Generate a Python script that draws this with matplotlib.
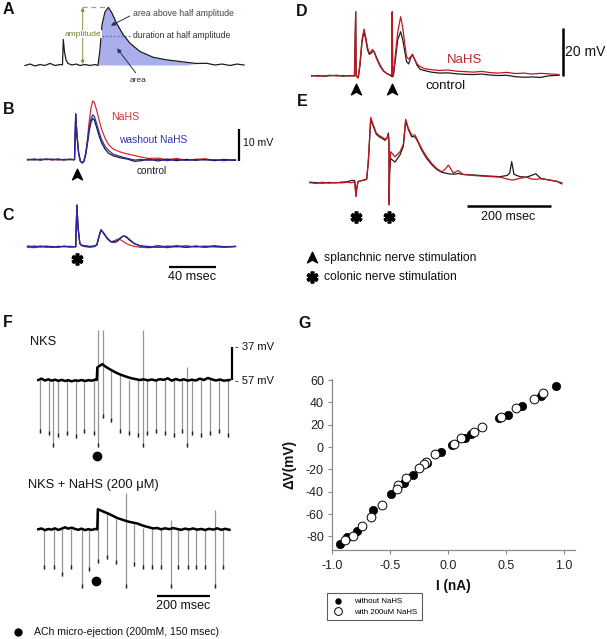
import matplotlib
matplotlib.use('Agg')
import matplotlib.pyplot as plt
from matplotlib.path import Path
from matplotlib.lines import Line2D
from matplotlib.markers import MarkerStyle
import numpy as np

plt.rcParams['font.family'] = ['Liberation Sans', 'DejaVu Sans']

# ---------------- DATA ----------------
# Panel A: schematic EPSP (ms, mV)
tA = [-32.6,-28.3,-24.1,-19.8,-15.6,-11.3,-7.1,-2.8,-0.7,0,1,2.3,4,7.4,10.8,14.2,18.5,22.7,27,29.5,
      31.2,32.9,35.5,38.3,41.4,45.4,51.1,56.8,65.3,76.6,88,95.9,105,112.9,122,129,135,141.9,147.8,153.8]
vA = [-0.15,0.3,-0.3,0.15,-0.15,0.5,-0.15,0.15,0.06,8.0,4.1,1.6,0.5,0,0.3,-0.15,0.15,-0.15,0.15,-0.15,
      4.7,12.5,16.6,18.0,16.25,13.0,9.4,6.8,4.2,2.4,1.6,1.25,0.84,0.47,0.53,0,0.3,-0.15,0.3,0]

# Panel B: splanchnic stimulation (ms, mV)
tB = [-41,-35,-30,-25,-20,-15,-10,-5,-1,0,1,2.5,4,5.6,7,8.5,10,11.5,13,14.5,16,18,20,22,25,28,32,38,44,
      50,56,62,70,78,86,94,102,110,118,126,136]
B_control = [0,0.2,-0.1,0.2,0,0.2,-0.1,0.1,0,14.3,8,2,-0.5,-1,-0.5,1.5,5,9,11.7,12.9,12.3,9.8,7.4,5.3,3.3,
             2.0,1.2,0.6,0.2,-0.5,-0.3,0.2,-0.4,0.2,-0.3,0.1,-0.2,0.1,-0.3,0,-0.2]
B_washout = [0.1,-0.1,0.2,0,0.2,-0.1,0.1,0,0,14.3,8,2,-0.5,-1,-0.4,1.8,5.5,10,12.8,14,13.4,11,8.5,6.3,4.1,
             2.9,1.7,1.0,0.4,-0.1,0.1,-0.2,0.1,-0.3,0.1,-0.2,0.1,-0.1,0,-0.3,0]
B_nahs = [-0.1,0.1,-0.1,0.2,-0.1,0.1,0,0.2,0,14.3,8,2,-0.5,-1,-0.3,2,6.5,12,16.2,18.4,17.8,15.2,12.3,9.5,6.7,
          4.7,3.3,2.4,1.8,1.3,0.8,0.4,0.5,0,0.4,-0.2,0.1,0.3,-0.2,0.1,-0.1]

# Panel C: colonic stimulation (ms, mV)
tC = [-41,-35,-30,-25,-20,-15,-10,-5,0,1,2,3.5,5,8,12,16,18,20,21.5,24,27,30,33,36,38,40.5,43,46,50,
      55,62,70,78,86,94,102,110,118,126,136]
C_control = [0.2,-0.1,0.2,0,-0.2,0.1,0,0.1,0,13,6,1,0.4,0.2,0,0.2,0.6,3.5,5.3,4.2,2.6,1.6,1.5,2.0,2.8,3.3,3.0,
             2.0,0.9,0.3,-0.2,0.3,-0.1,0.3,-0.2,0.2,-0.1,0.3,0,0.1]
C_washout = [0,0.2,-0.1,0.2,0,-0.2,0.2,0,0,13,6,1,0.5,0.3,0.1,0.2,0.6,3.4,5.2,4.1,2.5,1.5,1.3,1.8,2.6,3.4,3.2,
             2.2,1.0,0.2,0.1,-0.2,0.2,0,0.3,-0.1,0.2,0,-0.1,0]
C_nahs = [-0.2,-0.3,0,-0.2,0.1,-0.1,0.1,-0.2,0,13,6,1,0.3,0,-0.2,0,0.5,3.3,5.2,4,2.4,1.5,1.9,2.4,2.2,1.6,1.0,
          0.5,0.1,-0.2,-0.3,-0.1,-0.3,0,-0.2,0.1,-0.2,0,-0.2,0.1]

# Panel D: two splanchnic stimuli (ms, mV)
tD = [-105,-90,-75,-60,-45,-30,-15,-3,
      0,1,6,10,15,19.8,24,28,32,36,40,44,50,58,66,74,82,86,
      87,88,90,94,100,107,112,117,121,126,131,135,140,146,153,
      165,180,200,220,240,260,280,300,320,340,360,380,400,420,440,460,484]
D_nahs = [0.2,-0.1,0.1,0.3,0,0.2,0,0.1,
          26.5,0,-0.5,5,15,19.4,16,12,9.5,10,11,10,7,4,2,1,0.5,0,
          26.5,0,1,8,18,24.5,20,13,8,7,8,8.7,7,5,3.9,
          3,2.6,2.3,2.5,2.0,1.8,1.6,1.9,1.4,1.2,1.5,1.0,1.2,0.8,1.1,0.9,0.6]
D_control = [0,0.2,-0.1,0.1,0.3,-0.1,0.2,0,
             26.5,0,-0.8,4,14,18.5,15,11,9,9.3,10,10,7.5,4.5,2.2,1,0.3,-0.3,
             26.5,-0.3,0.5,6,15,18.3,15,10,6,5,7.5,9,7,4.5,2.8,
             2.2,1.6,1.2,1.3,0.9,0.7,0.6,0.8,0.4,0.2,0.3,-0.3,-0.5,-0.4,-0.6,0.1,0.3]

# Panel E: two colonic stimuli (ms, mV)
tE = [-110,-95,-80,-65,-50,-35,-20,-10,-3,0,2,5,12,20,25.5,29.4,35,42.9,48.4,55,61,69,74,77,78.5,79,80,
      82.5,92.9,104.8,112.7,118.3,124.6,132.5,140.5,148.4,156.3,168.3,180.2,192,204,212,220,231.7,243,
      255.6,279,311,343,360,366,370.7,376,390,406,418,427.9,440,454,478,490]
E_nahs = [0,-0.3,0.2,-0.2,0.1,-0.1,0.2,0,0.3,
          -5.8,-2,0.5,0.8,1,1.5,9.4,27,23,20.5,
          19.5,18.9,18,18.5,19.7,17,-9.2,5,12.8,10.7,
          12.8,15.8,26.2,22.5,19.7,19.7,16.9,14.1,10.7,8,
          5.9,4.5,5.5,7.3,4.0,5.0,3.4,3.0,2.6,2.3,
          1.5,1.3,1.1,1.2,1.8,2.3,1.5,1.4,1.6,1.3,
          0.5,0]
E_control = [0.2,0,-0.2,0.1,-0.1,0.2,0.4,1.0,0.8,
             -5.5,-2,0.5,0.8,1.2,1.5,8.5,26,22.5,20,
             19,18.5,17.5,18.5,20.5,17,-8,4,10,8.5,
             11.5,15,25.5,22,19,19,16.5,13.5,10,7.5,
             5.5,4.3,4.0,3.7,3.5,3.8,3.4,3.2,2.8,2.5,
             3.0,4.0,8.7,3.5,2.5,2.3,3.0,3.7,1.8,1.3,
             0.6,-0.5]

stim_B = [1]
stim_C = [1]
stim_D = [0, 87]
stim_E = [0, 79]

# Panel F: membrane potential (ms, mV)
tF1 = [0,12,25,38,50,62,75,88,100,112,125,138,150,162,175,188,200,212,219,221,230,240,250,262,275,290,305,
       320,335,350,365,380,395,410,425,440,455,470,485,500,515,530,545,560,575,590,605,620,635,650,665,680,695,716]
vF1 = [-57,-56.2,-57.3,-56.6,-57.4,-56.8,-57.5,-56.9,-57.6,-57.1,-57.8,-57.2,-57.5,-57.0,-57.6,-57.1,-57.4,-56.8,
       -57.0,-49.5,-48.5,-47.5,-48.8,-50.0,-51.2,-52.5,-53.6,-54.5,-55.3,-56.0,-56.5,-57.0,-56.6,-57.2,-56.7,-57.3,
       -56.5,-56.9,-56.0,-57.4,-56.4,-57.2,-56.6,-57.4,-56.8,-57.3,-56.2,-57.0,-55.8,-56.6,-57.3,-56.7,-57.4,-57.0]
pulse1_t = [7,40,54,73,107,140,173,207,222,242,273,307,340,372,392,407,440,474,507,540,557,575,609,642,675,709]
pulse1_lo = [-89,-90,-97,-91,-90,-92,-89,-90,-97,-80,-82,-89,-90,-91,-97,-90,-89,-90,-91,-89,-97,-90,-91,-90,-89,-91]
pulse1_hi = [-57,-57,-57,-57,-57,-57,-57,-57,-27,-27,-51,-54,-57,-57,-27,-57,-57,-57,-57,-57,-49,-57,-57,-57,-57,-57]

tF2 = [0,12,25,38,50,62,75,88,100,112,125,138,150,162,175,188,200,212,221,223,235,250,265,280,295,310,325,340,
       355,370,385,400,415,430,445,460,475,490,505,520,535,550,565,580,595,610,625,640,655,670,685,700,716]
vF2 = [-57,-56.5,-57.5,-56.8,-57.2,-56.4,-57.4,-56.6,-55.8,-56.6,-56.0,-56.8,-57.3,-56.6,-57.5,-56.9,-57.4,-56.8,
       -57.0,-45.0,-45.8,-46.8,-47.8,-49.0,-50.2,-51.0,-51.8,-52.5,-53.0,-53.5,-54.4,-55.2,-55.8,-56.5,-56.2,-57.0,
       -56.4,-56.9,-56.3,-56.8,-57.3,-56.6,-57.1,-56.5,-57.2,-56.8,-57.4,-56.7,-57.2,-56.4,-57.3,-56.7,-57.3]
pulse2_t = [22,57,90,123,163,190,223,257,292,329,359,392,425,460,497,525,559,592,625,663,692]
pulse2_lo = [-81,-81,-85,-81,-92,-82,-77,-75,-78,-92,-79,-81,-81,-81,-92,-81,-81,-81,-81,-92,-81]
pulse2_hi = [-57,-57,-57,-57,-57,-57,-45,-47.4,-51,-35.4,-54,-56,-57,-57,-51.4,-57,-57,-57,-57,-45.4,-57]
ach_F1 = (218.7, -102.3)
ach_F2 = (215, -88)

# Panel G: I-V relation
filled_I = [0.93,0.80,0.64,0.52,0.44,0.20,0.15,0.03,-0.06,-0.18,-0.30,-0.38,-0.49,-0.65,-0.79,-0.87,-0.93]
filled_V = [55,46,37,29,26,12,8,1.5,-4.5,-14,-25,-32,-42,-56,-75,-81,-87]
open_I = [0.82,0.74,0.59,0.46,0.29,0.22,0.11,0.05,-0.11,-0.19,-0.21,-0.25,-0.36,-0.43,-0.44,-0.57,-0.67,
          -0.74,-0.82,-0.89]
open_V = [48,43,35,27,18,13,8.5,2.5,-6,-13.5,-15,-19,-28,-34,-38,-52,-63,-71,-80,-83]
G_xticks = [-1.0,-0.5,0.0,0.5,1.0]
G_yticks = [-80,-60,-40,-20,0,20,40,60]

# ---------------- FIGURE ----------------
W, H = 607, 639
fig = plt.figure(figsize=(W/100, H/100), dpi=100)

def box(x0, y0, x1, y1):
    return [x0/W, 1 - y1/H, (x1-x0)/W, (y1-y0)/H]

def T(x, y, s, **kw):
    kw.setdefault('va', 'center')
    return fig.text(x/W, 1 - y/H, s, **kw)

def panel(x0, y0, x1, y1, t0, sx, v0, sy, voff=0.0):
    ax = fig.add_axes(box(x0, y0, x1, y1))
    ax.set_xlim((x0-t0)/sx, (x1-t0)/sx)
    ax.set_ylim(voff + (v0-y1)/sy, voff + (v0-y0)/sy)
    ax.axis('off')
    return ax

arrow_marker = Path([(0, 1), (0.8, -0.7), (0, -0.25), (-0.8, -0.7), (0, 1)],
                    [Path.MOVETO, Path.LINETO, Path.LINETO, Path.LINETO, Path.CLOSEPOLY])
star_marker = MarkerStyle((6, 2, 0), capstyle='round')
STAR = dict(ls='none', marker=star_marker, ms=8.5, mew=2.6, color='black')
ARROW = dict(ls='none', marker=arrow_marker, ms=9, color='black')

RED = '#d42f2f'
DRED = '#c2161e'
BLUE = '#2a2ab0'
BLK = '#1c1c1c'

# ---- A ----
axA = panel(20, 0, 250, 90, 63.3, 1.175, 65, 3.2)
tAa = np.array(tA); vAa = np.array(vA)
axA.fill_between(tAa, vAa, 0, where=(tAa >= 29.5) & (tAa <= 105), color='#a9afea', lw=0, interpolate=True)
axA.plot(tA, vA, color=BLK, lw=0.9)
pk = max(vA)
axA.plot([15.6, 38.3], [pk, pk], ls=(0, (4, 3)), color='#9a9a9a', lw=0.9)
axA.annotate('', xy=(16.5, pk), xytext=(16.5, 0.3),
             arrowprops=dict(arrowstyle='<|-|>', color='#8c8a3c', lw=0.7, mutation_scale=5,
                             shrinkA=0, shrinkB=0))
axA.plot([32.7, 56.8], [pk/2, pk/2], ls=(0, (1.5, 1.5)), color='#6b6bb5', lw=0.9)
axA.annotate('', xy=(40.5, 12.3), xytext=(56.5, 15.3),
             arrowprops=dict(arrowstyle='-|>', color='#22305a', lw=0.7, mutation_scale=6, shrinkA=0, shrinkB=0))
axA.annotate('', xy=(45.8, 5.2), xytext=(61.5, -2.4),
             arrowprops=dict(arrowstyle='-|>', color='#22305a', lw=0.7, mutation_scale=6, shrinkA=0, shrinkB=0))
T(132.7, 13.3, 'area above half amplitude', fontsize=6.3, color='#3a4a3e')
T(132.7, 35.7, 'duration at half amplitude', fontsize=6.2, color='#303030')
T(65, 34, 'amplitude', fontsize=6.0, color='#7a7a34',
  bbox=dict(facecolor='white', edgecolor='none', pad=0.5), zorder=5)
T(130, 80, 'area', fontsize=6.0, color='#303030')

# ---- B ----
axB = panel(20, 95, 250, 185, 75.7, 1.175, 159.7, 3.2)
axB.plot(tB, B_nahs, color=RED, lw=0.9)
axB.plot(tB, B_control, color=BLK, lw=0.9)
axB.plot(tB, B_washout, color=BLUE, lw=0.9)
axB.plot([139, 139], [-0.4, 9.6], color='black', lw=1.6, solid_capstyle='butt')
axB.plot(stim_B, [-4.8]*len(stim_B), **ARROW)
T(110.7, 116.7, 'NaHS', fontsize=7.6, color='#cc3333')
T(119.3, 140, 'washout NaHS', fontsize=7.4, color='#3535a8')
T(136.7, 170.7, 'control', fontsize=7.3, color='#222222')
T(242.7, 143.3, '10 mV', fontsize=7.6, color='#111111')

# ---- C ----
axC = panel(20, 195, 250, 290, 75.7, 1.175, 246.7, 3.2)
axC.plot(tC, C_nahs, color=RED, lw=0.9)
axC.plot(tC, C_control, color=BLK, lw=0.9)
axC.plot(tC, C_washout, color=BLUE, lw=0.9)
axC.plot([79.4, 119.4], [-6.3, -6.3], color='black', lw=1.6, solid_capstyle='butt')
axC.plot(stim_C, [-3.9]*len(stim_C), **STAR)
T(192.5, 277, '40 msec', fontsize=9.2, ha='center', color='#111111')

# ---- D ----
axD = panel(305, 0, 607, 95, 355.7, 0.42, 76, 2.42)
axD.plot(tD, D_control, color=BLK, lw=0.9)
axD.plot(tD, D_nahs, color=DRED, lw=0.9)
axD.plot([494, 494], [0, 20], color='black', lw=1.8, solid_capstyle='butt')
axD.plot(stim_D, [-5.8]*len(stim_D), **ARROW)
T(446.7, 60, 'NaHS', fontsize=9.5, color='#c0282d')
T(425, 86, 'control', fontsize=9.6, color='#111111')
T(565, 52, '20 mV', fontsize=10, color='#111111')

# ---- E ----
axE = panel(305, 95, 607, 230, 356, 0.42, 182.7, 2.42)
axE.plot(tE, E_control, color=BLK, lw=0.9)
axE.plot(tE, E_nahs, color=DRED, lw=0.9)
axE.plot([263.6, 463.6], [-9.6, -9.6], color='black', lw=1.8, solid_capstyle='butt')
axE.plot(stim_E, [-14]*len(stim_E), **STAR)
T(508.3, 216.7, '200 msec', fontsize=9, ha='center', color='#111111')

# stimulation legend
ax0 = fig.add_axes([0, 0, 1, 1])
ax0.set_xlim(0, W); ax0.set_ylim(H, 0); ax0.axis('off')
ax0.plot([311.7], [258.3], **ARROW)
ax0.plot([311.7], [276.7], **STAR)
ax0.plot([18.3], [632.3], ls='none', marker='o', ms=5, color='black')
T(324.3, 258.3, 'splanchnic nerve stimulation', fontsize=8.7, color='#111111')
T(324.3, 276.7, 'colonic nerve stimulation', fontsize=8.7, color='#111111')

# ---- F ----
axF1 = panel(30, 325, 245, 465, 38.3, 0.267, 380, 1.67, voff=-57)
axF1.vlines(pulse1_t, pulse1_lo, pulse1_hi, color='#969696', lw=0.9)
axF1.vlines(pulse1_t, pulse1_lo, np.array(pulse1_lo) + 2.5, color='#222222', lw=1.0)
axF1.plot(tF1, vF1, color='black', lw=1.8)
axF1.plot([726.6, 726.6], [-57, -37], color='black', lw=1.6, solid_capstyle='butt')
axF1.plot([ach_F1[0]], [ach_F1[1]], ls='none', marker='o', ms=6, color='black')
T(30, 341.7, 'NKS', fontsize=9.3, color='#111111')
T(235, 347.3, '- 37 mV', fontsize=8, color='#111111')
T(235, 381, '- 57 mV', fontsize=8, color='#111111')

axF2 = panel(30, 488, 245, 600, 38.3, 0.267, 529.3, 1.67, voff=-57)
axF2.vlines(pulse2_t, pulse2_lo, pulse2_hi, color='#969696', lw=0.9)
axF2.vlines(pulse2_t, pulse2_lo, np.array(pulse2_lo) + 2.5, color='#222222', lw=1.0)
axF2.plot(tF2, vF2, color='black', lw=1.8)
axF2.plot([443.4, 643.4], [-96.9, -96.9], color='black', lw=1.6, solid_capstyle='butt')
axF2.plot([ach_F2[0]], [ach_F2[1]], ls='none', marker='o', ms=6, color='black')
T(28.3, 485, 'NKS + NaHS (200 \u03bcM)', fontsize=9.3, color='#111111')
T(183, 606, '200 msec', fontsize=9, ha='center', color='#111111')
T(34, 632.3, 'ACh micro-ejection (200mM, 150 msec)', fontsize=7.6, color='#111111')

# ---- G ----
axG = fig.add_axes(box(332.3, 379, 575, 550.3))
axG.set_xlim(-1.0, 1.096)
axG.set_ylim(-92.5, 60.9)
axG.plot(filled_I, filled_V, ls='none', marker='o', ms=6, mfc='black', mec='black', mew=0.5)
axG.plot(open_I, open_V, ls='none', marker='o', ms=6.3, mfc='white', mec='black', mew=0.7)
for s in ['top', 'right']:
    axG.spines[s].set_visible(False)
for s in ['left', 'bottom']:
    axG.spines[s].set_color('#8a8a8a')
    axG.spines[s].set_linewidth(0.9)
axG.set_xticks(G_xticks)
axG.set_xticklabels(['%.1f' % v for v in G_xticks])
axG.set_yticks(G_yticks)
axG.set_yticklabels(['%d' % v for v in G_yticks])
axG.tick_params(axis='both', direction='out', length=3, color='#8a8a8a', labelsize=9, labelcolor='#222222')
axG.tick_params(axis='x', pad=4)
axG.tick_params(axis='y', pad=3)
axG.set_xlabel('I (nA)', fontsize=9.8, fontweight='bold', labelpad=5, color='#111111')
axG.set_ylabel('\u0394V(mV)', fontsize=9.8, fontweight='bold', labelpad=7, color='#111111')
axG.patch.set_alpha(0)

h1 = Line2D([], [], ls='none', marker='o', ms=3.6, mfc='black', mec='black')
h2 = Line2D([], [], ls='none', marker='o', ms=5.6, mfc='white', mec='black', mew=0.7)
leg = fig.legend([h1, h2], ['without NaHS', 'with 200uM NaHS'], loc='upper left',
                 bbox_to_anchor=(326.7/W, 1 - 593/H), fontsize=5.7, frameon=True, fancybox=False,
                 edgecolor='#333333', borderpad=0.6, handlelength=1.6, handletextpad=1.2,
                 labelspacing=0.35, borderaxespad=0)
leg.get_frame().set_linewidth(0.8)

# panel labels
for lab, x, y in [('A', 2.7, 10), ('B', 2.7, 110), ('C', 2.7, 216), ('D', 296, 11),
                  ('E', 297, 102), ('F', 2.7, 322.5), ('G', 298, 324)]:
    T(x, y, lab, fontsize=11.5, fontweight='bold', color='#111111')

fig.savefig('out.png', dpi=100)
